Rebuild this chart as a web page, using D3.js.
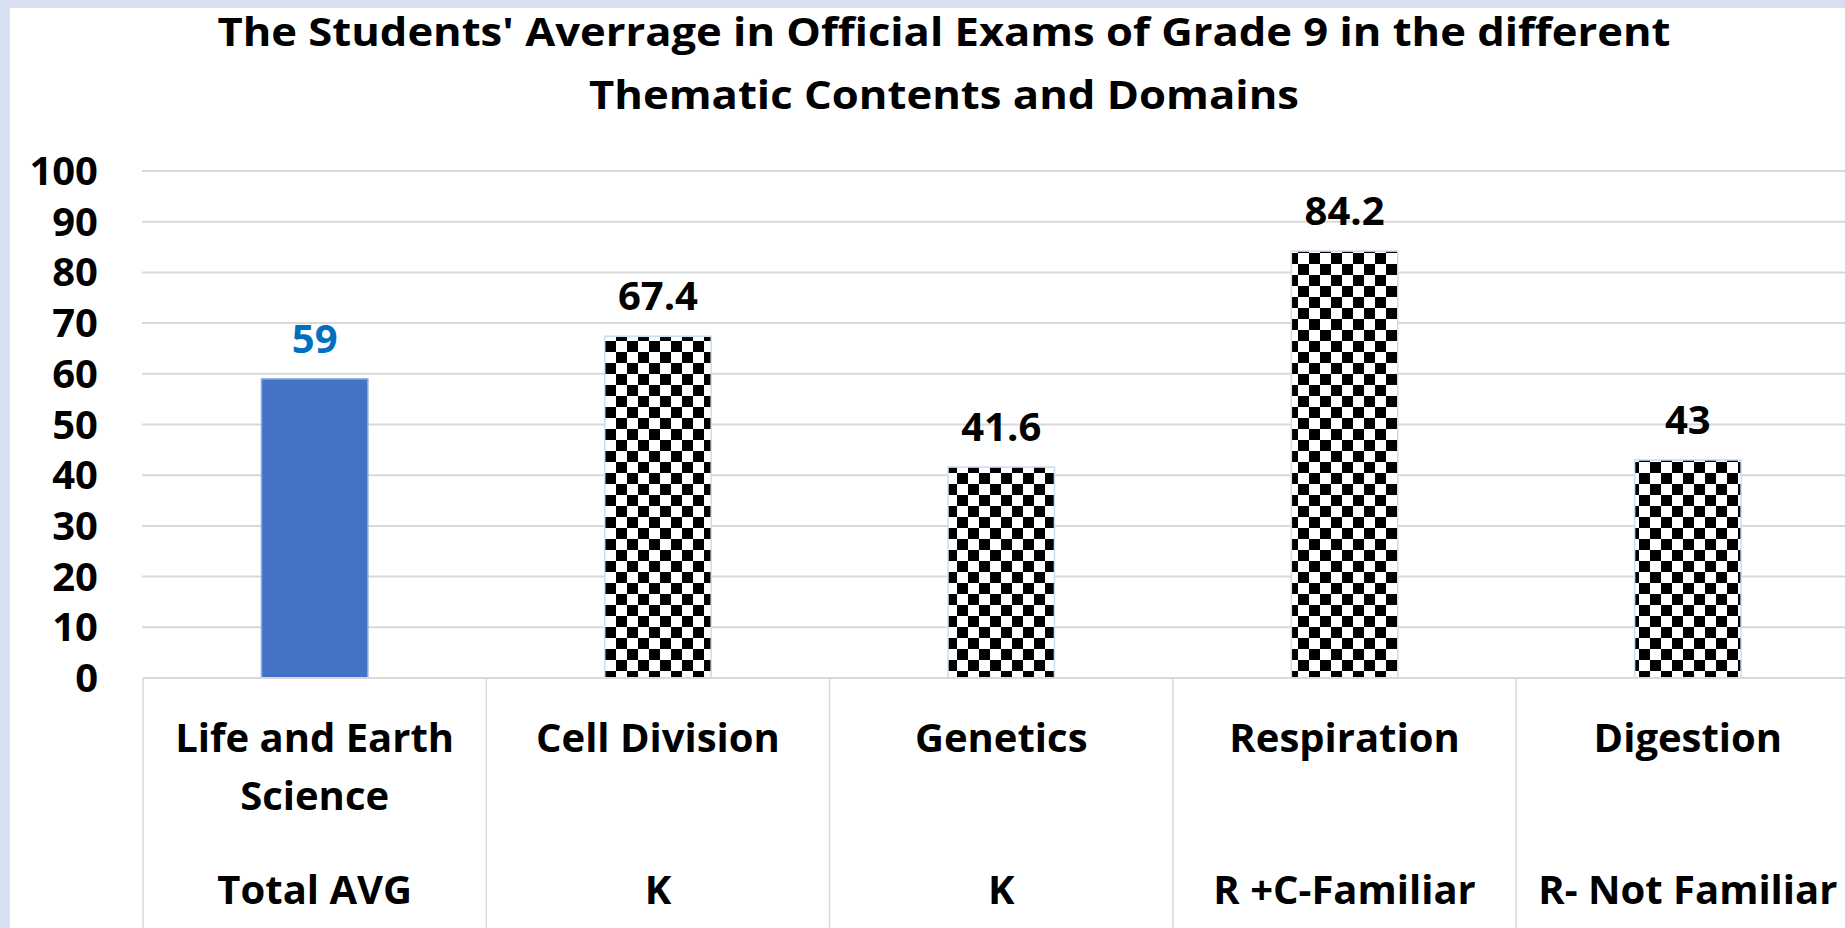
<!DOCTYPE html>
<html>
<head>
<meta charset="utf-8">
<script src="https://d3js.org/d3.v7.min.js"></script>
<style>
    body { margin: 0; background: #d6e0f0; }
    svg { display: block; }
    text { font-family: "Open Sans", "DejaVu Sans", sans-serif; font-weight: bold; }
</style>
</head>
<body>
<div id="barchart"></div>
<script>

// chart data
var categories = ["Life and Earth Science", "Cell Division", "Genetics", "Respiration", "Digestion"]
var labelLines = [["Life and Earth", "Science"], ["Cell Division"], ["Genetics"], ["Respiration"], ["Digestion"]]
var domains = ["Total AVG", "K", "K", "R +C-Familiar", "R- Not Familiar"]
var values = [59, 67.4, 41.6, 84.2, 43]
var yTicks = [0, 10, 20, 30, 40, 50, 60, 70, 80, 90, 100]
var titleLines = ["The Students' Averrage in Official Exams of Grade 9 in the different", "Thematic Contents and Domains"]

// set the dimensions and margins of the graph
const W = 1845, H = 928
const margin = {top: 171, left: 143, bottom: 678}
const step = 343.3

const svg = d3.select("#barchart")
    .append("svg")
    .attr("width", W)
    .attr("height", H)

// light blue frame, white panel
svg.append("rect").attr("width", W).attr("height", H).attr("fill", "#d6e0f0")
svg.append("rect").attr("x", 10).attr("y", 8).attr("width", W - 10).attr("height", H - 8).attr("fill", "#ffffff")

// checker pattern for the domain bars
const defs = svg.append("defs")
const pat = defs.append("pattern")
    .attr("id", "checker")
    .attr("patternUnits", "userSpaceOnUse")
    .attr("width", 22)
    .attr("height", 22)
pat.append("rect").attr("width", 22).attr("height", 22).attr("fill", "#ffffff")
pat.append("rect").attr("width", 11).attr("height", 11).attr("fill", "#000000")
pat.append("rect").attr("x", 11).attr("y", 11).attr("width", 11).attr("height", 11).attr("fill", "#000000")

// scales
const x = d3.scaleBand()
    .domain(categories)
    .range([margin.left, margin.left + step * categories.length])
    .padding(0)

const y = d3.scaleLinear()
    .domain([0, 100])
    .range([margin.bottom, margin.top])

// title
svg.selectAll(".title")
    .data(titleLines)
    .enter()
    .append("text")
    .attr("class", "title")
    .attr("x", 944)
    .attr("y", function (d, i) { return 46 + i * 63 })
    .attr("text-anchor", "middle")
    .attr("font-size", 40)
    .attr("textLength", function (d, i) { return i == 0 ? 1453 : 710 })
    .attr("lengthAdjust", "spacingAndGlyphs")
    .attr("fill", "#000")
    .text(function (d) { return d })

// gridlines
svg.selectAll(".grid")
    .data(yTicks.slice(1))
    .enter()
    .append("line")
    .attr("x1", margin.left - 1)
    .attr("x2", W)
    .attr("y1", function (d) { return y(d) })
    .attr("y2", function (d) { return y(d) })
    .attr("stroke", "#d9d9d9")
    .attr("stroke-width", 2)

// y labels
svg.selectAll(".ylab")
    .data(yTicks)
    .enter()
    .append("text")
    .attr("x", 98)
    .attr("y", function (d) { return y(d) + 14 })
    .attr("text-anchor", "end")
    .attr("font-size", 40)
    .attr("fill", "#000")
    .text(function (d) { return d })

// bars
const bw = x.bandwidth() * 0.31
svg.selectAll(".bar")
    .data(values)
    .enter()
    .append("rect")
    .attr("x", function (d, i) { return x(categories[i]) + x.bandwidth() / 2 - bw / 2 })
    .attr("y", function (d) { return y(d) })
    .attr("width", bw)
    .attr("height", function (d) { return y(0) - y(d) })
    .attr("fill", function (d, i) { return i == 0 ? "#4472c4" : "url(#checker)" })
    .attr("stroke", function (d, i) { return i == 0 ? "#8fb0e3" : "#c9dcf2" })
    .attr("stroke-width", 1.5)

// value labels
svg.selectAll(".vlab")
    .data(values)
    .enter()
    .append("text")
    .attr("x", function (d, i) { return x(categories[i]) + x.bandwidth() / 2 })
    .attr("y", function (d) { return y(d) - 26 })
    .attr("text-anchor", "middle")
    .attr("font-size", 40)
    .attr("fill", function (d, i) { return i == 0 ? "#0070c0" : "#000" })
    .text(function (d) { return d })

// axis table lines
svg.append("line")
    .attr("x1", margin.left).attr("x2", W)
    .attr("y1", y(0)).attr("y2", y(0))
    .attr("stroke", "#d9d9d9").attr("stroke-width", 2)

svg.selectAll(".vsep")
    .data(categories)
    .enter()
    .append("line")
    .attr("x1", function (d) { return x(d) })
    .attr("x2", function (d) { return x(d) })
    .attr("y1", y(0))
    .attr("y2", H)
    .attr("stroke", "#d9d9d9")
    .attr("stroke-width", 1.5)

// category labels
categories.forEach(function (c, i) {
    labelLines[i].forEach(function (t, j) {
        svg.append("text")
            .attr("x", x(c) + x.bandwidth() / 2)
            .attr("y", 752 + j * 58)
            .attr("text-anchor", "middle")
            .attr("font-size", 40)
            .attr("fill", "#000")
            .text(t)
    })
    svg.append("text")
        .attr("x", x(c) + x.bandwidth() / 2)
        .attr("y", 904)
        .attr("text-anchor", "middle")
        .attr("font-size", 40)
        .attr("fill", "#000")
        .text(domains[i])
})

</script>
</body>
</html>
